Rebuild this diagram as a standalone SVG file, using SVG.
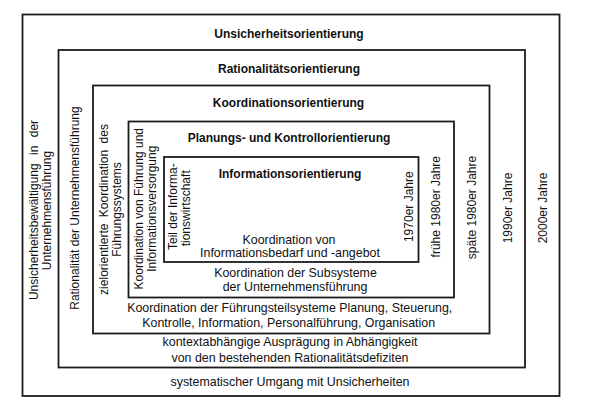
<svg xmlns="http://www.w3.org/2000/svg" width="600" height="403" viewBox="0 0 600 403">
<style>
.box{fill:none;stroke:#1c1c1c;stroke-width:1.8}
.t{font-family:"Liberation Sans",Arial,sans-serif;font-size:12.4px;fill:#111;text-anchor:middle}
.v{font-family:"Liberation Sans",Arial,sans-serif;font-size:12px;fill:#111;text-anchor:middle}
.b{font-family:"Liberation Sans",Arial,sans-serif;font-size:12px;font-weight:bold;fill:#111;text-anchor:middle}
</style>
<rect width="600" height="403" fill="#fff"/>
<g id="connectors"/>
<g id="unsicherheitsorientierung">
<rect class="box" x="22.5" y="14.5" width="537" height="381.5"/>
<text class="b" x="289" y="37.7">Unsicherheitsorientierung</text>
<text class="v" transform="translate(37.5,210) rotate(-90)" word-spacing="5">Unsicherheitsbewältigung in der</text>
<text class="v" transform="translate(50.5,210.5) rotate(-90)">Unternehmensführung</text>
<text class="v" transform="translate(546.5,208) rotate(-90)">2000er Jahre</text>
<text class="t" x="290" y="386.3">systematischer Umgang mit Unsicherheiten</text>
</g>
<g id="rationalitaetsorientierung">
<rect class="box" x="58.5" y="50" width="466.5" height="317.5"/>
<text class="b" x="289" y="72.5">Rationalitätsorientierung</text>
<text class="v" transform="translate(78.5,208) rotate(-90)">Rationalität der Unternehmensführung</text>
<text class="v" transform="translate(511.8,208) rotate(-90)">1990er Jahre</text>
<text class="t" x="290" y="346">kontextabhängige Ausprägung in Abhängigkeit</text>
<text class="t" x="290" y="361.8">von den bestehenden Rationalitätsdefiziten</text>
</g>
<g id="koordinationsorientierung">
<rect class="box" x="93" y="85.5" width="396.5" height="248"/>
<text class="b" x="288.5" y="107.3">Koordinationsorientierung</text>
<text class="v" transform="translate(107.5,209.5) rotate(-90)" word-spacing="3">zielorientierte Koordination des</text>
<text class="v" transform="translate(120.5,209.5) rotate(-90)">Führungssystems</text>
<text class="v" transform="translate(476,207.5) rotate(-90)">späte 1980er Jahre</text>
<text class="t" x="289.7" y="312">Koordination der Führungsteilsysteme Planung, Steuerung,</text>
<text class="t" x="288.7" y="327">Kontrolle, Information, Personalführung, Organisation</text>
</g>
<g id="planungs-kontrollorientierung">
<rect class="box" x="128.5" y="121.5" width="325.5" height="176"/>
<text class="b" x="289" y="142.3">Planungs- und Kontrollorientierung</text>
<text class="v" transform="translate(143,208.7) rotate(-90)">Koordination von Führung und</text>
<text class="v" transform="translate(156,208.7) rotate(-90)">Informationsversorgung</text>
<text class="v" transform="translate(440,206.7) rotate(-90)">frühe 1980er Jahre</text>
<text class="t" x="295.5" y="277">Koordination der Subsysteme</text>
<text class="t" x="295" y="291">der Unternehmensführung</text>
</g>
<g id="informationsorientierung">
<rect class="box" x="164" y="157" width="254.5" height="105"/>
<text class="b" x="290" y="177.5">Informationsorientierung</text>
<text class="v" transform="translate(177,206.7) rotate(-90)">Teil der Informa-</text>
<text class="v" transform="translate(190,208.3) rotate(-90)">tionswirtschaft</text>
<text class="v" transform="translate(413,206.7) rotate(-90)">1970er Jahre</text>
<text class="t" x="289" y="243.8">Koordination von</text>
<text class="t" x="290" y="257.3">Informationsbedarf und -angebot</text>
</g>
</svg>
